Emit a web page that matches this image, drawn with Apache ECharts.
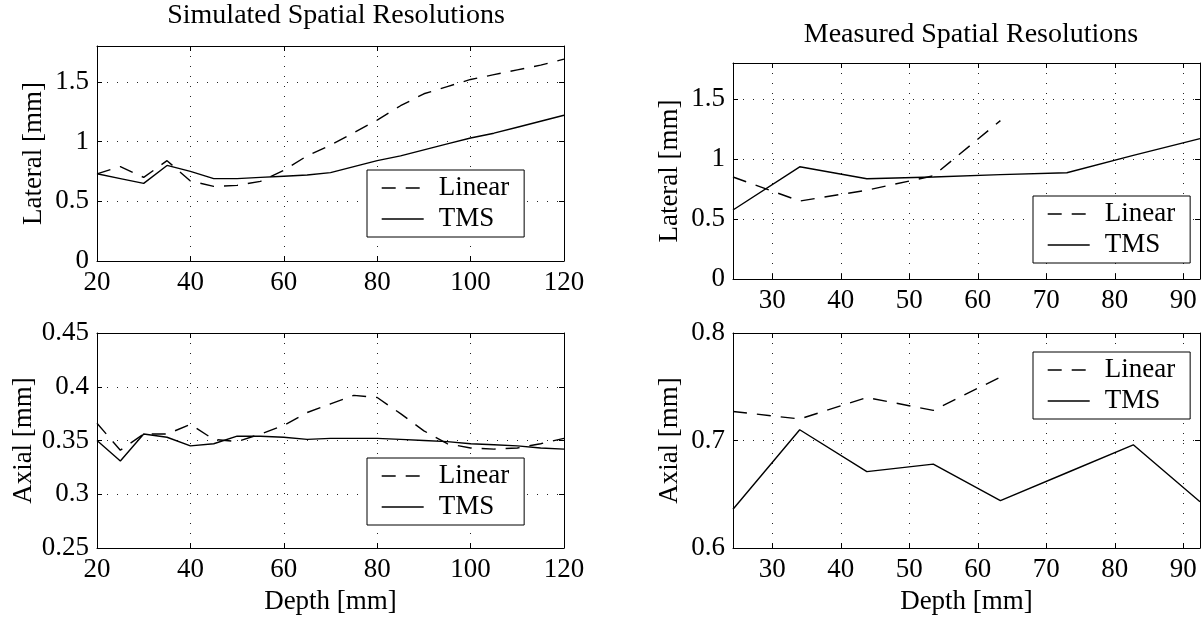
<!DOCTYPE html>
<html><head><meta charset="utf-8">
<script src="https://cdn.jsdelivr.net/npm/echarts@6/dist/echarts.min.js"></script>
<style>html,body{margin:0;padding:0;background:#fff}#c{width:1203px;height:621px}</style>
</head><body><div id="c"></div>
<script>
// ---- data ----
const depthSim = [20,25,30,35,40,45,50,55,60,65,70,75,80,85,90,95,100,105,110,115,120];
const simLateralLinear = [0.73,0.79,0.70,0.84,0.67,0.625,0.633,0.667,0.76,0.88,0.97,1.075,1.18,1.30,1.40,1.46,1.52,1.56,1.60,1.64,1.69];
const simLateralTMS    = [0.73,0.69,0.65,0.80,0.75,0.69,0.69,0.70,0.71,0.72,0.74,0.79,0.84,0.88,0.93,0.98,1.03,1.07,1.12,1.17,1.22];
const simAxialLinear   = [0.366,0.341,0.356,0.356,0.365,0.351,0.349,0.356,0.364,0.376,0.384,0.392,0.390,0.375,0.359,0.347,0.343,0.342,0.343,0.347,0.352];
const simAxialTMS      = [0.350,0.331,0.356,0.353,0.345,0.347,0.354,0.354,0.353,0.351,0.352,0.352,0.352,0.351,0.350,0.349,0.347,0.346,0.345,0.343,0.342];

const depthMeas = [24.26,34.0,43.8,53.5,63.3,73.0,82.7,92.44];
const measLateralLinear = [0.85,0.65,0.74,0.86,1.32];
const measLateralTMS    = [0.575,0.935,0.835,0.85,0.87,0.885,1.03,1.17];
const measAxialLinear   = [0.727,0.720,0.740,0.728,0.759];
const measAxialTMS      = [0.636,0.710,0.671,0.678,0.644,0.670,0.696,0.643];

const titles = ['Simulated Spatial Resolutions','Measured Spatial Resolutions'];
const seriesNames = ['Linear','TMS'];

// ---- chart ----
const FONT = 'Liberation Serif';
const FS = 27;
const chart = echarts.init(document.getElementById('c'), null, {renderer:'canvas'});

const grids = [
  {left:97, top:46, width:467, height:215},
  {left:97, top:333, width:467, height:215},
  {left:733, top:63, width:467, height:216},
  {left:733, top:333, width:467, height:215}
];

const txt = {fontFamily:FONT, fontSize:FS, color:'#000'};

function xPair(gi, opt, name) {
  const base = {type:'value', gridIndex:gi, min:opt.min, max:opt.max};
  if (opt.interval) base.interval = opt.interval;
  return [
    Object.assign({}, base, {
      position:'bottom',
      axisLine:{show:true, onZero:false, lineStyle:{color:'#000', width:1}},
      axisTick:{show:true, inside:true, length:5, lineStyle:{color:'#000'}},
      axisLabel:Object.assign({margin:8, showMinLabel:opt.showMin, showMaxLabel:opt.showMax}, txt),
      splitLine:{show:true, lineStyle:{color:'#222', type:[1,9], width:1}},
      name:name||'', nameLocation:'middle', nameGap:40, nameTextStyle:txt
    }),
    Object.assign({}, base, {
      position:'top',
      axisLine:{show:true, onZero:false, lineStyle:{color:'#000', width:1}},
      axisTick:{show:true, inside:true, length:5, lineStyle:{color:'#000'}},
      axisLabel:{show:false}, splitLine:{show:false}
    })
  ];
}
function yPair(gi, opt, name) {
  const base = {type:'value', gridIndex:gi, min:opt.min, max:opt.max, interval:opt.interval};
  return [
    Object.assign({}, base, {
      position:'left',
      axisLine:{show:true, onZero:false, lineStyle:{color:'#000', width:1}},
      axisTick:{show:true, inside:true, length:5, lineStyle:{color:'#000'}},
      axisLabel:Object.assign({margin:8, showMinLabel:true, showMaxLabel:opt.showMax}, txt),
      splitLine:{show:true, lineStyle:{color:'#222', type:[1,9], width:1}},
      name:name, nameLocation:'middle', nameGap:50, nameRotate:90, nameTextStyle:txt
    }),
    Object.assign({}, base, {
      position:'right',
      axisLine:{show:true, onZero:false, lineStyle:{color:'#000', width:1}},
      axisTick:{show:true, inside:true, length:5, lineStyle:{color:'#000'}},
      axisLabel:{show:false}, splitLine:{show:false}
    })
  ];
}

const xAxis = [].concat(
  xPair(0, {min:20, max:120, interval:20, showMin:true, showMax:true}),
  xPair(1, {min:20, max:120, interval:20, showMin:true, showMax:true}, 'Depth [mm]'),
  xPair(2, {min:24.26, max:92.44, showMin:false, showMax:false}),
  xPair(3, {min:24.26, max:92.44, showMin:false, showMax:false}, 'Depth [mm]')
);
const yAxis = [].concat(
  yPair(0, {min:0, max:1.8, interval:0.5, showMax:false}, 'Lateral [mm]'),
  yPair(1, {min:0.25, max:0.45, interval:0.05, showMax:true}, 'Axial [mm]'),
  yPair(2, {min:0, max:1.8, interval:0.5, showMax:false}, 'Lateral [mm]'),
  yPair(3, {min:0.6, max:0.8, interval:0.1, showMax:true}, 'Axial [mm]')
);

function pairs(xs, ys) { return ys.map((y,i)=>[xs[i], y]); }
function mk(gi, name, data, dashed) {
  return {
    type:'line', name:name, xAxisIndex:2*gi, yAxisIndex:2*gi, data:data,
    symbol:'none', showSymbol:false, silent:true, animation:false,
    lineStyle:{color:'#000', width:1.4, type: dashed ? [14,10] : 'solid'},
    itemStyle:{color:'#000'}
  };
}
const series = [
  mk(0,'Linear',pairs(depthSim, simLateralLinear),true),
  mk(0,'TMS',pairs(depthSim, simLateralTMS),false),
  mk(1,'Linear',pairs(depthSim, simAxialLinear),true),
  mk(1,'TMS',pairs(depthSim, simAxialTMS),false),
  mk(2,'Linear',pairs(depthMeas, measLateralLinear),true),
  mk(2,'TMS',pairs(depthMeas, measLateralTMS),false),
  mk(3,'Linear',pairs(depthMeas, measAxialLinear),true),
  mk(3,'TMS',pairs(depthMeas, measAxialTMS),false)
];

function leg(left, top) {
  return {
    orient:'vertical', left:left, top:top, data:seriesNames, selectedMode:false,
    itemWidth:42, itemHeight:28, itemGap:3, padding:[4,15,4,14],
    borderColor:'#000', borderWidth:1, backgroundColor:'#fff', borderRadius:0,
    itemStyle:{opacity:0, borderWidth:0},
    lineStyle:{width:1.4},
    textStyle:Object.assign({padding:[0,0,0,10], lineHeight:28}, txt)
  };
}

const titleStyle = Object.assign({fontWeight:'normal'}, txt, {fontSize:28});
chart.setOption({
  animation:false,
  backgroundColor:'#fff',
  title:[
    {text:titles[0], left:331, top:-3, textAlign:'center', textStyle:titleStyle},
    {text:titles[1], left:966, top:16, textAlign:'center', textStyle:titleStyle}
  ],
  grid:grids,
  xAxis:xAxis, yAxis:yAxis,
  legend:[leg(367,170), leg(367,458), leg(1033,196), leg(1033,352)],
  series:series
});
</script>
</body></html>
